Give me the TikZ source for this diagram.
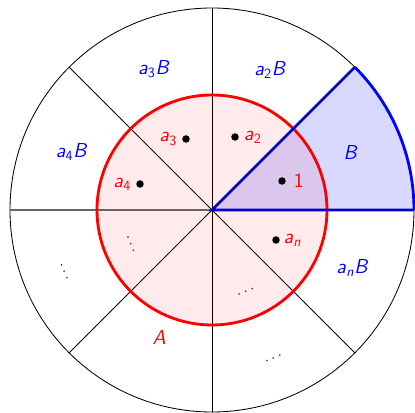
\documentclass[tikz,border=0pt]{standalone}
\usetikzlibrary{positioning,calc}
\newcommand{\itv}[1]{\textit{#1}}
\newcommand{\subs}[1]{\textsubscript{#1}}
\begin{document}
\begin{tikzpicture}[x=0.025cm,y=0.025cm,
  thinline/.style={black,line width=0.6pt},
  lbl/.style={font=\Large\sffamily},
  blbl/.style={lbl,text=blue},
  rlbl/.style={lbl,text=red},
  pt/.style={circle,fill=black,inner sep=0pt,minimum size=7.5*0.025cm},
  sdot/.style={circle,fill=black!70,inner sep=0pt,minimum size=2*0.025cm}]
\useasboundingbox (-212,-203) rectangle (203,210);
\fill[white] (-212,-203) rectangle (203,210);
\coordinate (O) at (0,0);
% outer circle
\draw[thinline] (O) circle (202);
% radial lines
\foreach \a in {45,90,135,225,270,315} {\draw[thinline] (O) -- (\a:202);}
\draw[black!60,line width=1.1pt] (O) -- (180:202);
% blue sector fill
\fill[blue,fill opacity=0.15] (O) -- (0:202) arc (0:45:202) -- cycle;
% red circle
\fill[red,fill opacity=0.08] (O) circle (115);
\draw[red,line width=2pt] (O) circle (115);
\draw[blue!80!black,line width=2pt] (45:202) -- (O) -- (0:202);
\draw[blue,line width=2pt] (0:202) arc (0:45:202);
% sector labels
\node[blbl] (L3) at (112.5:152) {\itv{a}\subs{3}\itv{B}};
\node[blbl] (L2) at (67.5:152) {\itv{a}\subs{2}\itv{B}};
\node[blbl] (LB) at (22.5:150) {\itv{B}};
\node[blbl] (L4) at (157.5:152) {\itv{a}\subs{4}\itv{B}};
\node[blbl] (Ln) at (-22.5:152) {\itv{a}\subs{\itv{n}}\itv{B}};
\node[rlbl] (LA) at (247.5:138) {\itv{A}};
% points
\node[pt] (p3) at (-26,71) {};
\node[rlbl,left=0pt of p3] (t3) {\itv{a}\subs{3}};
\node[pt] (p2) at (23,73) {};
\node[rlbl,right=0pt of p2] (t2) {\itv{a}\subs{2}};
\node[pt] (p4) at (-72,26) {};
\node[rlbl,left=0pt of p4] (t4) {\itv{a}\subs{4}};
\node[pt] (p1) at (70,29) {};
\node[rlbl,right=2pt of p1] (t1) {1};
\node[pt] (pn) at (64,-30) {};
\node[rlbl,right=-1pt of pn] (tn) {\itv{a}\subs{\itv{n}}};
% dots
\foreach \r in {88,160} {
  \foreach \d in {-7,0,7} {
    \node[sdot] at ($(202.5:\r)+(-67.5:\d)$) {};
    \node[sdot] at ($(292.5:\r)+(22.5:\d)$) {};
  }
}
\end{tikzpicture}
\end{document}
